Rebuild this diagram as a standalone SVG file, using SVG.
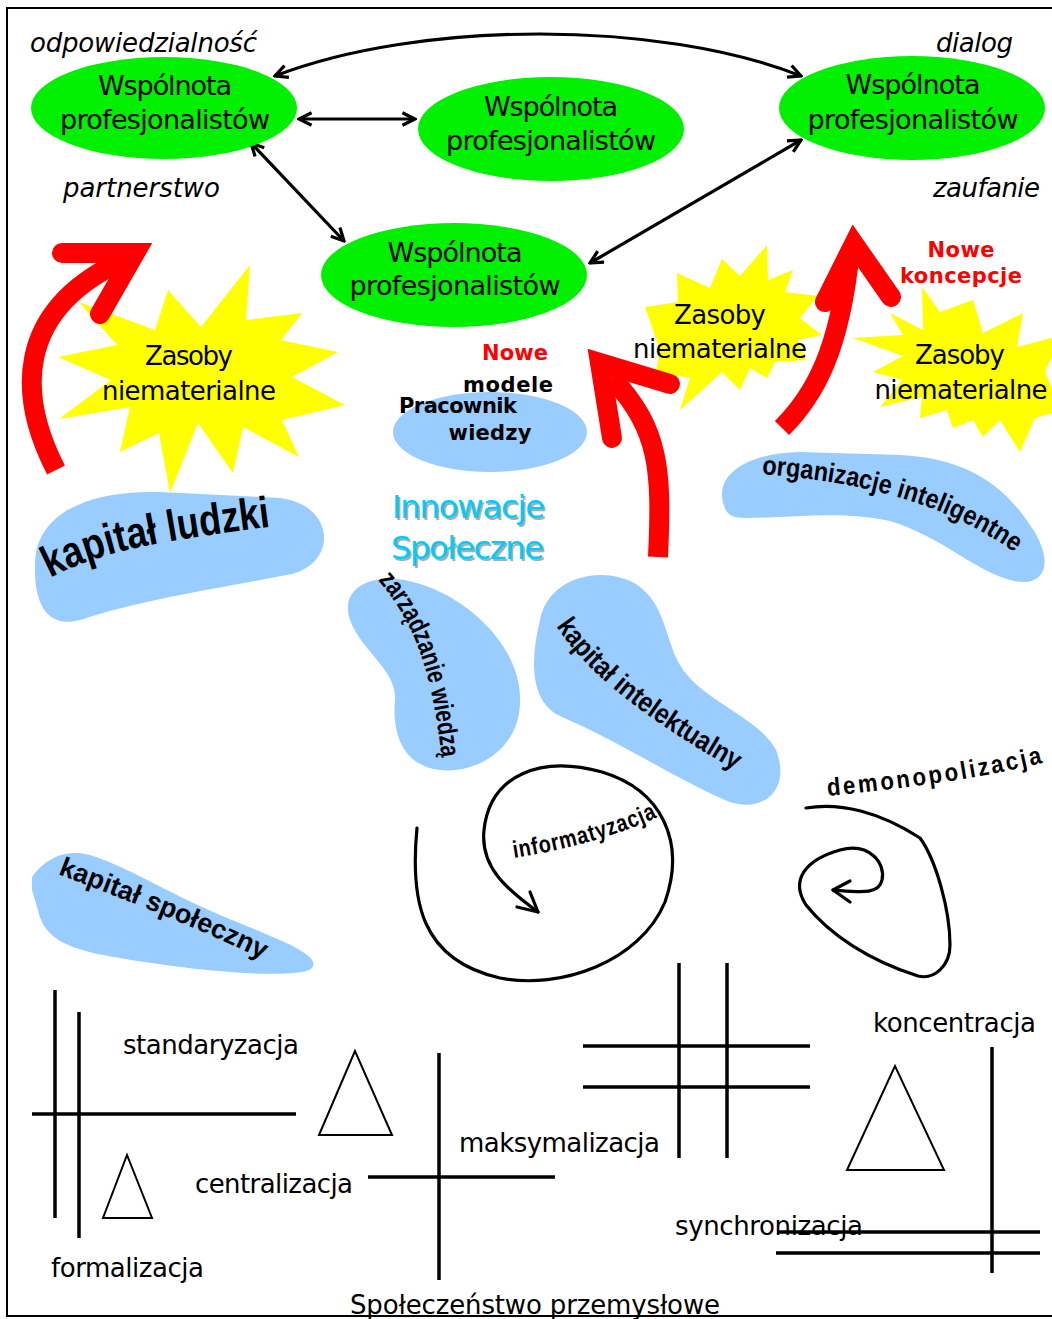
<svg xmlns="http://www.w3.org/2000/svg" width="1052" height="1319" viewBox="0 0 1052 1319">
<style>
.t{font-family:"DejaVu Sans",Verdana,sans-serif;fill:#000}
.it{font-family:"DejaVu Sans",Verdana,sans-serif;font-style:italic;fill:#000;font-size:26px}
.lab{font-size:27px;text-anchor:middle}
.zs{font-size:26px;text-anchor:middle}
.bl{font-size:26px}
.bold{font-family:"DejaVu Sans",Verdana,sans-serif;font-weight:bold;font-size:21px;text-anchor:middle}
.blob{fill:#99CCFF}
.bt{font-family:"Liberation Sans",Arial,sans-serif;font-weight:bold;fill:#000}
.green{fill:#00F000}
.star{fill:#FFFF00}
.con{stroke:#000;stroke-width:3.2;fill:none}
.red{stroke:#FF0000;fill:none;stroke-width:20}
.ln{stroke:#000;stroke-width:3.5;fill:none}
.tri{stroke:#000;stroke-width:2;fill:#fff}
.sp{stroke:#000;stroke-width:3.2;fill:none;stroke-linecap:round;stroke-linejoin:round}
</style>
<defs>
<marker id="ah" viewBox="0 0 14 14" refX="12.5" refY="7" markerWidth="16" markerHeight="16" markerUnits="userSpaceOnUse" orient="auto-start-reverse">
<path d="M1.5,1.5 L12.5,7 L1.5,12.5" fill="none" stroke="#000" stroke-width="2.8"/>
</marker>
<path id="p-kl" d="M 50 578 C 100 552, 150 542, 276 526"/>
<path id="p-oi" d="M 762 474 C 830 480, 930 492, 1014 552"/>
<path id="p-zw" d="M 378 580 C 412 620, 432 665, 442 762"/>
<path id="p-ki" d="M 556 626 C 592 680, 652 722, 738 772"/>
<path id="p-ks" d="M 58 874 C 120 898, 190 924, 264 960"/>
<path id="p-inf" d="M 514 858 C 560 851, 620 836, 664 814"/>
<path id="p-dem" d="M 828 796 C 900 789, 980 779, 1050 761"/>
</defs>
<rect x="0" y="0" width="1052" height="1319" fill="#fff"/>
<rect x="7" y="8" width="1070" height="1308" fill="none" stroke="#000" stroke-width="2"/>

<g id="stars">
<polygon id="star-1" class="star" points="168,290 201,327 250,265 246,320 302,313 281,340 338,352 292,377 345,405 282,420 299,457 243,427 233,473 198,423 170,493 159,433 120,452 130,407 59,419 111,380 58,357 117,345 79,302 155,330"/>
<polygon id="star-2" class="star" points="767,245 768,280 793,270 785,292 818,296 800,318 822,335 798,340 806,360 775,362 767,378 750,368 740,390 722,372 680,410 690,378 656,372 660,350 645,307 678,302 677,273 710,288 722,259 740,276"/>
<polygon id="star-3" class="star" points="922,287 940,312 973,300 983,333 1023,313 1017,347 1062,335 1045,372 1062,410 1035,418 1020,452 1000,420 983,437 973,420 953,428 947,410 920,418 922,397 880,407 902,380 873,372 903,356 853,338 903,335 890,313 923,330"/>
</g>

<g id="red-arrows">
<g id="red-arrow-1">
<path class="red" d="M 56 470 C 20 400, 10 310, 128 258" stroke-linecap="butt"/>
<polyline class="red" points="62,253 135,253 100,314" stroke-linecap="round" stroke-linejoin="miter" stroke-miterlimit="10"/>
</g>
<g id="red-arrow-2">
<path class="red" d="M 658 557 C 662 470, 660 430, 612 378" stroke-linecap="butt"/>
<polyline class="red" points="670,384 600,363 612,438" stroke-linecap="round" stroke-linejoin="miter" stroke-miterlimit="10"/>
</g>
<g id="red-arrow-3">
<path class="red" d="M 782 428 C 815 395, 840 350, 850 250" stroke-linecap="butt"/>
<polyline class="red" points="825,302 854,244 891,297" stroke-linecap="round" stroke-linejoin="miter" stroke-miterlimit="10"/>
</g>
</g>

<g id="star-texts">
<text class="t zs" x="189" y="365" textLength="88">Zasoby</text>
<text class="t zs" x="189" y="400" textLength="174">niematerialne</text>
<text class="t zs" x="720" y="324" textLength="92">Zasoby</text>
<text class="t zs" x="720" y="358" textLength="174">niematerialne</text>
<text class="t zs" x="960" y="364" textLength="90">Zasoby</text>
<text class="t zs" x="961" y="399" textLength="173">niematerialne</text>
</g>

<g id="connectors">
<path class="con" d="M 275 76 C 420 20, 660 20, 801 76" marker-start="url(#ah)" marker-end="url(#ah)"/>
<path class="con" d="M 299 119 L 415 119" marker-start="url(#ah)" marker-end="url(#ah)"/>
<path class="con" d="M 251 143 L 344 241" marker-start="url(#ah)" marker-end="url(#ah)"/>
<path class="con" d="M 801 140 L 590 263" marker-start="url(#ah)" marker-end="url(#ah)"/>
</g>

<g id="node-1">
<ellipse class="green" cx="164" cy="108" rx="133" ry="51"/>
<text class="t lab" x="165" y="95" textLength="134">Wspólnota</text>
<text class="t lab" x="165" y="129" textLength="210">profesjonalistów</text>
</g>
<g id="node-2">
<ellipse class="green" cx="551" cy="129" rx="133" ry="52"/>
<text class="t lab" x="551" y="116" textLength="134">Wspólnota</text>
<text class="t lab" x="551" y="150" textLength="210">profesjonalistów</text>
</g>
<g id="node-3">
<ellipse class="green" cx="912" cy="108" rx="133" ry="52"/>
<text class="t lab" x="913" y="94" textLength="135">Wspólnota</text>
<text class="t lab" x="913" y="129" textLength="211">profesjonalistów</text>
</g>
<g id="node-4">
<ellipse class="green" cx="454" cy="275" rx="133" ry="52"/>
<text class="t lab" x="455" y="262" textLength="135">Wspólnota</text>
<text class="t lab" x="455" y="295" textLength="211">profesjonalistów</text>
</g>

<g id="italic-labels">
<text class="it" x="30" y="52" textLength="227">odpowiedzialność</text>
<text class="it" x="63" y="197" textLength="157">partnerstwo</text>
<text class="it" x="936" y="52" textLength="77">dialog</text>
<text class="it" x="933" y="197" textLength="107">zaufanie</text>
</g>

<g id="nowe-koncepcje">
<text class="bold" x="961" y="257" style="fill:#FF0000" textLength="67">Nowe</text>
<text class="bold" x="961" y="283" style="fill:#FF0000" textLength="122">koncepcje</text>
</g>

<g id="pracownik-wiedzy">
<ellipse class="blob" cx="490" cy="432" rx="97" ry="40"/>
<text class="bold" x="515" y="360" style="fill:#FF0000" textLength="66">Nowe</text>
<text class="bold" x="508" y="392" textLength="90">modele</text>
<text class="bold" x="458" y="413" textLength="118">Pracownik</text>
<text class="bold" x="490" y="440" textLength="83">wiedzy</text>
</g>

<g id="innowacje">
<text class="t" x="394" y="520" font-size="32" style="fill:#8a8a8a" opacity="0.7" textLength="153">Innowacje</text>
<text class="t" x="392" y="518" font-size="32" style="fill:#00CCFF" textLength="153">Innowacje</text>
<text class="t" x="393" y="561" font-size="32" style="fill:#8a8a8a" opacity="0.7" textLength="153">Społeczne</text>
<text class="t" x="391" y="559" font-size="32" style="fill:#00CCFF" textLength="153">Społeczne</text>
</g>

<g id="kapital-ludzki">
<path class="blob" d="M 35 565 C 35 515, 85 490, 160 492 L 280 498 C 335 505, 338 562, 292 574 C 220 588, 140 600, 80 620 C 42 630, 34 595, 35 565 Z"/>
<text class="bt" font-size="44"><textPath href="#p-kl" textLength="228" lengthAdjust="spacingAndGlyphs">kapitał ludzki</textPath></text>
</g>

<g id="organizacje-inteligentne">
<path class="blob" d="M 725 508 C 712 478, 742 453, 800 452 L 900 455 C 962 458, 1002 482, 1030 525 C 1056 562, 1046 590, 1010 580 C 974 570, 940 536, 890 521 C 840 510, 790 518, 745 518 C 732 518, 727 514, 725 508 Z"/>
<text class="bt" font-size="27"><textPath href="#p-oi" textLength="268" lengthAdjust="spacingAndGlyphs">organizacje inteligentne</textPath></text>
</g>

<g id="zarzadzanie-wiedza">
<path class="blob" d="M 350 620 C 338 585, 378 570, 420 584 C 472 600, 522 650, 520 702 C 520 746, 480 774, 440 770 C 402 766, 392 732, 395 700 C 397 670, 362 652, 350 620 Z"/>
<text class="bt" font-size="27"><textPath href="#p-zw" textLength="192" lengthAdjust="spacingAndGlyphs">zarządzanie wiedzą</textPath></text>
</g>

<g id="kapital-intelektualny">
<path class="blob" d="M 540 620 C 548 578, 600 564, 636 584 C 666 604, 665 640, 680 665 C 700 700, 760 718, 776 750 C 792 790, 762 816, 725 800 C 680 781, 620 742, 560 716 C 530 702, 530 660, 540 620 Z"/>
<text class="bt" font-size="28"><textPath href="#p-ki" textLength="232" lengthAdjust="spacingAndGlyphs">kapitał intelektualny</textPath></text>
</g>

<g id="kapital-spoleczny">
<path class="blob" d="M 32 877 C 44 860, 64 848, 90 855 C 130 868, 162 890, 220 915 C 280 940, 322 955, 312 968 C 300 980, 200 972, 120 958 C 70 950, 44 940, 38 910 L 32 890 Z"/>
<text class="bt" font-size="27"><textPath href="#p-ks" textLength="222" lengthAdjust="spacingAndGlyphs">kapitał społeczny</textPath></text>
</g>

<g id="informatyzacja">
<path class="sp" d="M 417 828 C 410 900, 420 960, 500 978 C 560 990, 640 962, 665 902 C 686 842, 662 790, 602 772 C 540 755, 490 775, 484 830 C 480 868, 508 890, 538 912"/>
<polyline class="sp" points="517,907 538,912 530,892"/>
<text class="bt" font-size="24" letter-spacing="1"><textPath href="#p-inf" textLength="150" lengthAdjust="spacingAndGlyphs">informatyzacja</textPath></text>
</g>

<g id="demonopolizacja">
<path class="sp" d="M 806 808 C 840 802, 880 812, 920 838 C 936 860, 950 910, 950 945 C 950 966, 934 980, 918 976 C 870 961, 830 935, 806 905 C 790 880, 805 860, 840 850 C 870 842, 886 864, 882 880 C 879 895, 860 892, 833 890"/>
<polyline class="sp" points="850,881 833,890 850,902"/>
<text class="bt" font-size="25" letter-spacing="3"><textPath href="#p-dem" textLength="220" lengthAdjust="spacingAndGlyphs">demonopolizacja</textPath></text>
</g>

<g id="industrial">
<line class="ln" x1="55" y1="990" x2="55" y2="1218"/>
<line class="ln" x1="79" y1="1012" x2="79" y2="1238"/>
<line class="ln" x1="32" y1="1114" x2="296" y2="1114"/>
<polygon class="tri" points="355,1051 319,1135 392,1135"/>
<polygon class="tri" points="127,1155 103,1218 152,1218"/>
<line class="ln" x1="439" y1="1053" x2="439" y2="1280"/>
<line class="ln" x1="368" y1="1177" x2="555" y2="1177"/>
<line class="ln" x1="679" y1="963" x2="679" y2="1158"/>
<line class="ln" x1="727" y1="963" x2="727" y2="1158"/>
<line class="ln" x1="583" y1="1046" x2="810" y2="1046"/>
<line class="ln" x1="583" y1="1087" x2="810" y2="1087"/>
<polygon class="tri" points="895,1066 847,1170 944,1170"/>
<line class="ln" x1="992" y1="1047" x2="992" y2="1273"/>
<line class="ln" x1="777" y1="1232" x2="1040" y2="1232"/>
<line class="ln" x1="776" y1="1253" x2="1040" y2="1253"/>
<text class="t bl" x="123" y="1054" textLength="176">standaryzacja</text>
<text class="t bl" x="195" y="1193" textLength="158">centralizacja</text>
<text class="t bl" x="51" y="1277" textLength="153">formalizacja</text>
<text class="t bl" x="459" y="1152" textLength="201">maksymalizacja</text>
<text class="t bl" x="873" y="1032" textLength="163">koncentracja</text>
<text class="t bl" x="675" y="1235" textLength="188">synchronizacja</text>
<text class="t bl" x="350" y="1314" textLength="370">Społeczeństwo przemysłowe</text>
</g>
</svg>
